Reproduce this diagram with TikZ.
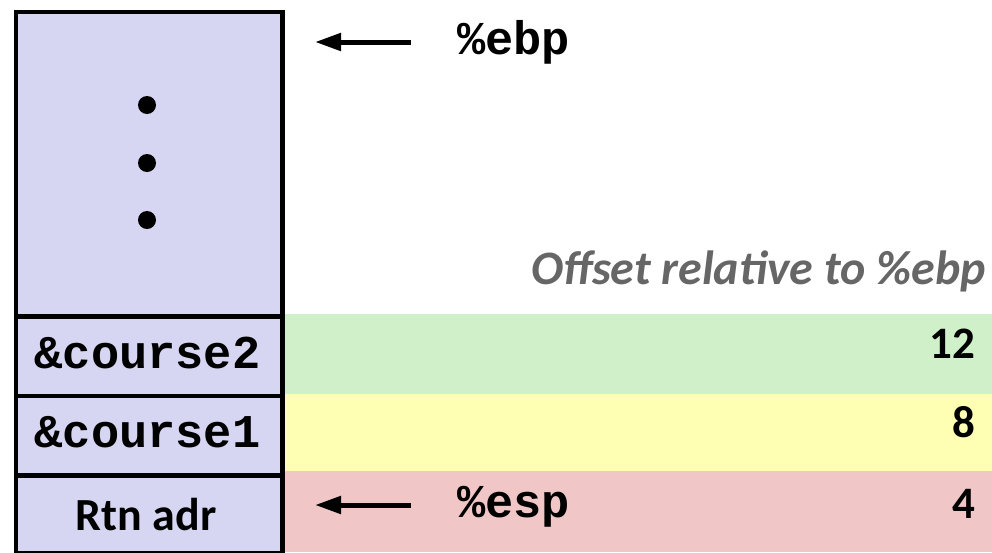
\documentclass[tikz,border=0pt]{standalone}
\usepackage{fontspec}
\setmainfont{Carlito}
\newfontfamily\codefont{Liberation Mono}
\usetikzlibrary{arrows.meta}
\definecolor{lav}{RGB}{214,214,242}
\definecolor{bandgreen}{RGB}{207,240,200}
\definecolor{bandyellow}{RGB}{255,255,179}
\definecolor{bandred}{RGB}{240,198,198}
\definecolor{offgray}{RGB}{102,102,102}
\tikzset{
  cell/.style={draw=black, line width=4.5pt, fill=lav, minimum width=266.5pt, inner sep=0pt, anchor=north west},
  band/.style={draw=none, inner sep=0pt, anchor=north west, minimum width=712pt},
  codetxt/.style={font=\codefont\bfseries\fontsize{47}{56}\selectfont, inner sep=0pt, anchor=base},
  labtxt/.style={font=\bfseries\fontsize{46}{54}\selectfont, inner sep=0pt, anchor=base},
  numtxt/.style={font=\bfseries\fontsize{45}{52}\selectfont, inner sep=0pt, anchor=base east},
  dot/.style={circle, fill=black, draw=none, minimum size=18pt, inner sep=0pt},
  ptr/.style={line width=5pt, -{Triangle[length=26pt,width=17pt]}}
}
\begin{document}
\begin{tikzpicture}[x=1pt,y=-1pt]
\useasboundingbox (0,0) rectangle (992,552);
% colored bands
\node[band, fill=bandgreen, minimum height=79.5pt] (bg) at (280,314) {};
\node[band, fill=bandyellow, minimum height=78.5pt] (by) at (280,393.5) {};
\node[band, fill=bandred, minimum height=81pt] (br) at (280,471) {};
% stack cells
\node[cell, minimum height=304.5pt] (top) at (13.5,9.5) {};
\node[cell, minimum height=79.5pt] (c2) at (13.5,314) {};
\node[cell, minimum height=79.5pt] (c1) at (13.5,393.5) {};
\node[cell, minimum height=78pt] (ra) at (13.5,473) {};
% contents
\node[dot] (d1) at (147,105) {};
\node[dot] (d2) at (147,163) {};
\node[dot] (d3) at (147,220) {};
\node[codetxt] (t2) at (147.5,368) {\&course2};
\node[codetxt] (t1) at (147.5,447) {\&course1};
\node[labtxt] (tr) at (146,530) {Rtn adr};
% offsets
\node[font=\bfseries\itshape\fontsize{48}{56}\selectfont, text=offgray, inner sep=0pt, anchor=base east] (off) at (986,284) {Offset relative to \%ebp};
\node[numtxt] (n12) at (975,358.5) {12};
\node[numtxt] (n8) at (975,437.5) {8};
\node[numtxt] (n4) at (975,518.5) {4};
% pointers
\node[codetxt, anchor=base west] (ebp) at (457,54) {\%ebp};
\node[codetxt, anchor=base west] (esp) at (457,517) {\%esp};
\coordinate (ebptip) at (315,42);
\coordinate (esptip) at (315,505);
\coordinate (ebptail) at (411,42);
\coordinate (esptail) at (411,505);
\draw[ptr] (ebptail) -- (ebptip);
\draw[ptr] (esptail) -- (esptip);
\end{tikzpicture}
\end{document}
